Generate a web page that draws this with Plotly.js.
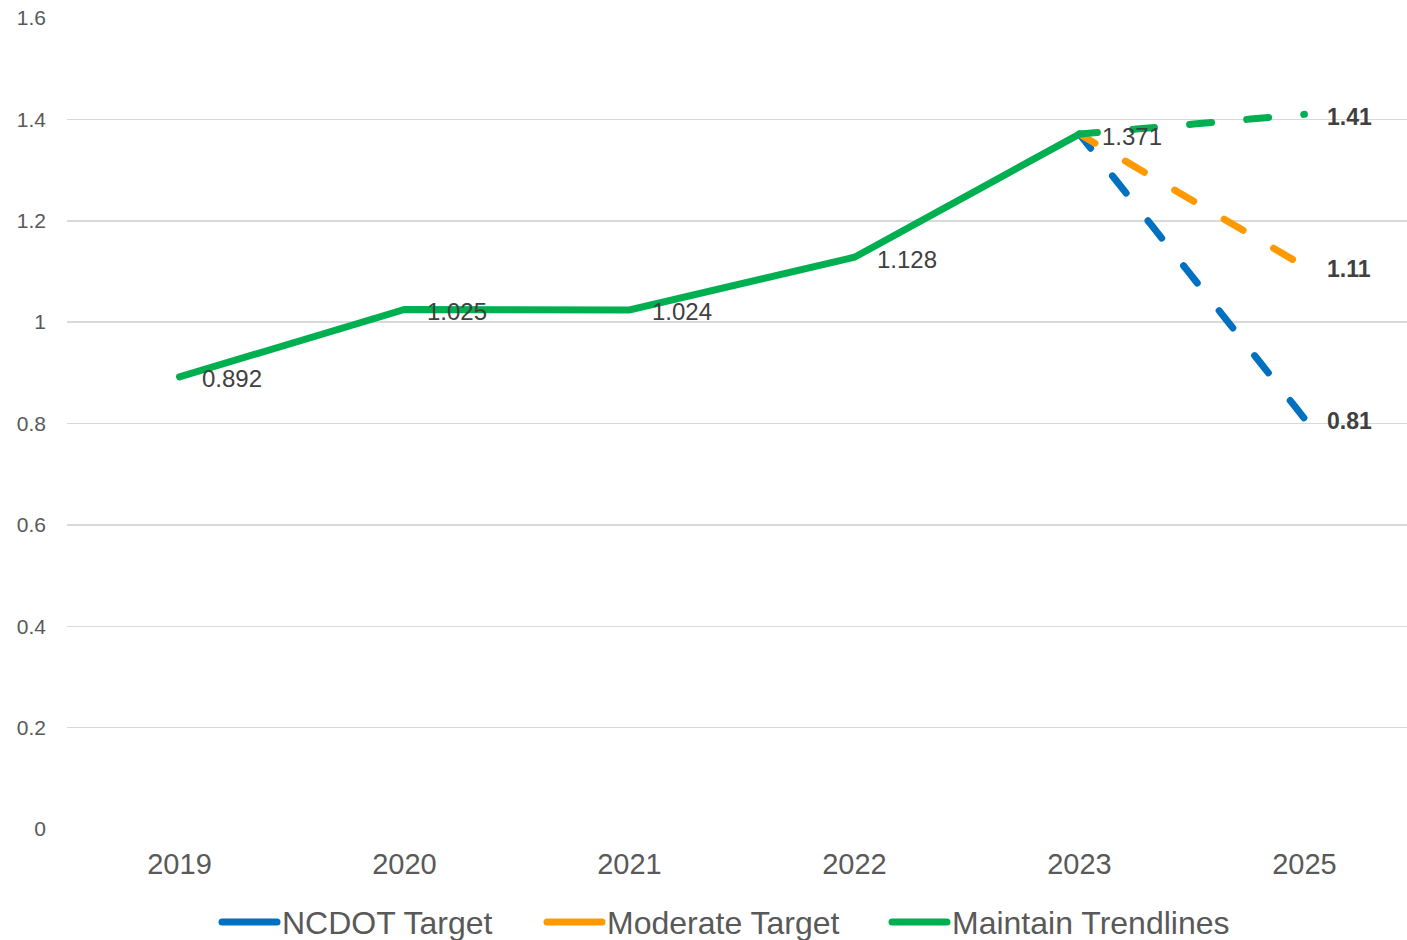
<!DOCTYPE html>
<html>
<head>
<meta charset="utf-8">
<script src="https://cdn.plot.ly/plotly-3.0.1.min.js"></script>
<style>
  html, body { margin: 0; padding: 0; background: #fff; }
  #chart { width: 1407px; height: 940px; }
  /* rounded ends for every series stroke and legend sample */
  .js-line { stroke-linecap: round; }
</style>
</head>
<body>
<div id="chart"></div>
<script>
// Categories on the x axis
const years = ['2019', '2020', '2021', '2022', '2023', '2025'];

// Observed values 2019-2023
const observedYears = ['2019', '2020', '2021', '2022', '2023'];
const observed = [0.892, 1.025, 1.024, 1.128, 1.371];

// Projections from 2023 to 2025
const projYears = ['2023', '2025'];
const ncdotTarget = [1.371, 0.81];
const moderateTarget = [1.371, 1.11];
const maintainTrend = [1.371, 1.41];

const BLUE = '#0070C0';
const ORANGE = '#FF9900';
const GREEN = '#00B050';
const FONT = 'Liberation Sans, Arial, sans-serif';
// long-dash pattern; the first dash is cut short so the run starts mid-dash
const DASH = '18px,35.3px,4px,0px';

const traces = [
  // dashed projections (drawn beneath the observed line)
  { x: projYears, y: ncdotTarget, mode: 'lines', type: 'scatter',
    line: { color: BLUE, width: 7, dash: DASH }, showlegend: false },
  { x: projYears, y: moderateTarget, mode: 'lines', type: 'scatter',
    line: { color: ORANGE, width: 7, dash: DASH }, showlegend: false },
  { x: projYears, y: maintainTrend, mode: 'lines', type: 'scatter',
    line: { color: GREEN, width: 7, dash: DASH }, showlegend: false },
  // observed series
  { x: observedYears, y: observed, mode: 'lines', type: 'scatter', name: 'Maintain Trendlines',
    line: { color: GREEN, width: 7 }, legend: 'legend3' },
  // legend entries for the targets
  { x: [years[0]], y: [null], mode: 'lines', type: 'scatter', name: 'NCDOT Target',
    line: { color: BLUE, width: 7 }, legend: 'legend' },
  { x: [years[0]], y: [null], mode: 'lines', type: 'scatter', name: 'Moderate Target',
    line: { color: ORANGE, width: 7 }, legend: 'legend2' }
];

// value labels (category axes take the category index)
const annotations = [];
observedYears.forEach((yr, i) => {
  annotations.push({
    x: years.indexOf(yr), y: observed[i], xref: 'x', yref: 'y',
    text: String(observed[i]), showarrow: false,
    xanchor: 'left', yanchor: 'middle', xshift: 21, yshift: -2,
    font: { family: FONT, size: 24, color: '#404040' }
  });
});
[ncdotTarget, moderateTarget, maintainTrend].forEach(series => {
  const v = series[1];
  annotations.push({
    x: years.indexOf(projYears[1]), y: v, xref: 'x', yref: 'y',
    text: '<b>' + v + '</b>', showarrow: false,
    xanchor: 'left', yanchor: 'middle', xshift: 21, yshift: -3,
    font: { family: FONT, size: 23, color: '#404040' }
  });
});

// one legend box per entry, laid out along the bottom
function legendBox(px) {
  return {
    orientation: 'h', xref: 'container', x: px / 1407, xanchor: 'left',
    yref: 'container', y: 0.019, yanchor: 'middle',
    font: { family: FONT, size: 32, color: '#595959' },
    itemwidth: 55, bgcolor: 'rgba(0,0,0,0)'
  };
}

const layout = {
  width: 1407, height: 940,
  margin: { l: 67, r: 0, t: 18, b: 111 },
  paper_bgcolor: '#ffffff', plot_bgcolor: '#ffffff',
  showlegend: true,
  legend: legendBox(217),
  legend2: legendBox(542),
  legend3: legendBox(887),
  xaxis: {
    type: 'category', categoryorder: 'array', categoryarray: years,
    range: [-0.5, 5.456], autorange: false,
    showgrid: false, zeroline: false, showline: false, ticks: '',
    tickfont: { family: FONT, size: 29, color: '#595959' },
    ticklabelstandoff: 15, fixedrange: true
  },
  yaxis: {
    range: [0, 1.6], autorange: false, dtick: 0.2, tick0: 0,
    showgrid: true, gridcolor: '#D9D9D9', gridwidth: 1.5,
    zeroline: false, showline: false, ticks: '',
    tickfont: { family: FONT, size: 21, color: '#595959' },
    ticklabelstandoff: 20, fixedrange: true
  },
  annotations: annotations
};

Plotly.newPlot('chart', traces, layout, { displayModeBar: false, staticPlot: true });
</script>
</body>
</html>
